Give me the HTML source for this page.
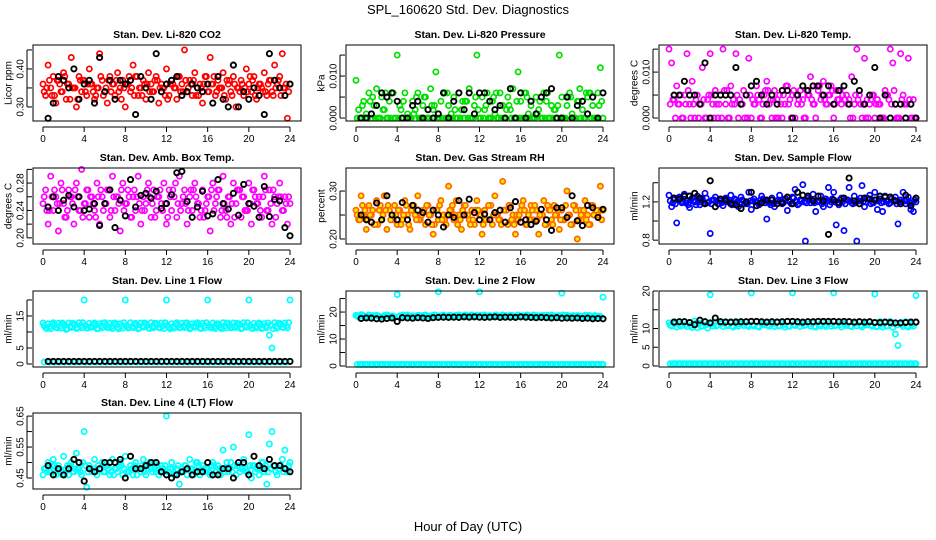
<!DOCTYPE html>
<html><head><meta charset="utf-8"><title>SPL_160620 Std. Dev. Diagnostics</title>
<style>
html,body{margin:0;padding:0;background:#fff;}
svg{display:block;font-family:"Liberation Sans",Arial,sans-serif;}
</style></head>
<body>
<svg id="chart" width="936" height="540" viewBox="0 0 936 540" xmlns="http://www.w3.org/2000/svg">
<text x="468" y="14" text-anchor="middle" font-size="13">SPL_160620  Std. Dev. Diagnostics</text>
<text x="468" y="531" text-anchor="middle" font-size="13">Hour of Day (UTC)</text>
</svg>
<script>
const hours = [0,0.25,0.5,0.75,1,1.25,1.5,1.75,2,2.25,2.5,2.75,3,3.25,3.5,3.75,4,4.25,4.5,4.75,5,5.25,5.5,5.75,6,6.25,6.5,6.75,7,7.25,7.5,7.75,8,8.25,8.5,8.75,9,9.25,9.5,9.75,10,10.25,10.5,10.75,11,11.25,11.5,11.75,12,12.25,12.5,12.75,13,13.25,13.5,13.75,14,14.25,14.5,14.75,15,15.25,15.5,15.75,16,16.25,16.5,16.75,17,17.25,17.5,17.75,18,18.25,18.5,18.75,19,19.25,19.5,19.75,20,20.25,20.5,20.75,21,21.25,21.5,21.75,22,22.25,22.5,22.75,23,23.25,23.5,23.75,24];
const hoursHalf = [0.5,1,1.5,2,2.5,3,3.5,4,4.5,5,5.5,6,6.5,7,7.5,8,8.5,9,9.5,10,10.5,11,11.5,12,12.5,13,13.5,14,14.5,15,15.5,16,16.5,17,17.5,18,18.5,19,19.5,20,20.5,21,21.5,22,22.5,23,23.5,24];
const hoursQ = [0.12,0.62,1.12,1.62,2.12,2.62,3.12,3.62,4.12,4.62,5.12,5.62,6.12,6.62,7.12,7.62,8.12,8.62,9.12,9.62,10.12,10.62,11.12,11.62,12.12,12.62,13.12,13.62,14.12,14.62,15.12,15.62,16.12,16.62,17.12,17.62,18.12,18.62,19.12,19.62,20.12,20.62,21.12,21.62,22.12,22.62,23.12,23.62];
const hoursR = [0.37,0.87,1.37,1.87,2.37,2.87,3.37,3.87,4.37,4.87,5.37,5.87,6.37,6.87,7.37,7.87,8.37,8.87,9.37,9.87,10.37,10.87,11.37,11.87,12.37,12.87,13.37,13.87,14.37,14.87,15.37,15.87,16.37,16.87,17.37,17.87,18.37,18.87,19.37,19.87,20.37,20.87,21.37,21.87,22.37,22.87,23.37,23.87];
const xTicks = [0,4,8,12,16,20,24];

const co2Main = [0.36,0.33,0.41,0.35,0.38,0.31,0.37,0.34,0.39,0.32,0.36,0.43,0.35,0.30,0.38,0.34,0.37,0.33,0.40,0.36,0.32,0.35,0.44,0.37,0.34,0.31,0.38,0.36,0.33,0.39,0.35,0.37,0.30,0.36,0.34,0.41,0.38,0.33,0.35,0.37,0.32,0.39,0.36,0.34,0.38,0.31,0.36,0.35,0.40,0.33,0.37,0.35,0.32,0.38,0.36,0.45,0.34,0.37,0.33,0.39,0.35,0.36,0.31,0.38,0.34,0.43,0.36,0.33,0.37,0.35,0.39,0.32,0.36,0.34,0.38,0.30,0.35,0.37,0.33,0.40,0.36,0.34,0.38,0.32,0.36,0.35,0.39,0.33,0.37,0.34,0.41,0.36,0.38,0.44,0.35,0.27,0.36];
const co2B = [0.34,0.37,0.33,0.36,0.38,0.32,0.35,0.37,0.34,0.36,0.33,0.38,0.35,0.34,0.37,0.32,0.36,0.35,0.38,0.33,0.36,0.34,0.37,0.35,0.32,0.36,0.38,0.34,0.35,0.37,0.33,0.36,0.34,0.38,0.35,0.33,0.37,0.36,0.34,0.35,0.38,0.33,0.36,0.34,0.37,0.35,0.33,0.36];
const co2C = [0.35,0.33,0.37,0.34,0.36,0.35,0.32,0.37,0.36,0.34,0.35,0.33,0.37,0.36,0.34,0.35,0.38,0.33,0.35,0.36,0.34,0.37,0.35,0.33,0.36,0.35,0.34,0.37,0.36,0.33,0.35,0.38,0.36,0.34,0.35,0.37,0.33,0.35,0.36,0.34,0.37,0.35,0.34,0.36,0.33,0.37,0.35,0.34];
const co2Black = [0.27,0.31,0.38,0.37,0.35,0.40,0.32,0.36,0.37,0.31,0.43,0.34,0.37,0.32,0.37,0.36,0.37,0.28,0.38,0.35,0.32,0.44,0.34,0.36,0.37,0.38,0.33,0.34,0.36,0.35,0.34,0.36,0.31,0.38,0.32,0.30,0.41,0.30,0.34,0.32,0.35,0.33,0.28,0.44,0.37,0.35,0.33,0.36];
const presMain = [0.009,0.002,0,0.004,0.001,0.006,0,0.003,0.007,0,0.005,0.002,0,0.004,0.006,0,0.015,0.003,0,0.006,0.001,0,0.004,0.002,0.006,0,0.003,0.005,0,0.007,0.002,0.011,0,0.004,0.006,0,0.003,0.001,0.005,0,0.006,0.002,0,0.004,0.007,0,0.003,0.015,0,0.005,0.002,0.006,0,0.004,0.001,0,0.006,0.003,0,0.005,0.002,0.007,0,0.011,0.004,0,0.006,0.001,0.003,0,0.005,0.002,0,0.006,0.004,0,0.003,0.002,0,0.015,0.005,0,0.003,0.006,0.001,0,0.004,0.007,0.002,0,0.005,0.006,0.003,0,0.006,0.012,0];
const presB = [0,0.003,0,0.005,0,0.002,0,0.006,0,0.004,0,0.001,0,0.005,0,0.003,0,0.006,0,0.002,0,0.004,0,0.005,0,0.003,0,0.006,0,0.002,0,0.004,0,0.005,0,0.001,0,0.006,0,0.003,0,0.005,0,0.004,0,0.006,0,0.003];
const presC = [0,0,0.004,0,0,0.006,0,0,0.002,0,0,0.005,0,0,0.003,0,0,0.006,0,0,0.004,0,0,0.002,0,0,0.005,0,0,0.003,0,0,0.006,0,0,0.004,0,0,0.002,0,0,0.005,0,0,0.006,0,0,0.004];
const presBlack = [0,0,0.001,0.003,0.006,0.005,0.006,0.004,0,0,0.003,0.004,0,0.002,0,0.001,0.006,0,0.004,0.006,0.002,0.006,0.001,0.006,0.006,0.004,0.002,0.003,0,0.007,0,0.006,0,0.004,0.001,0.005,0.006,0.007,0,0,0.005,0,0.003,0.004,0.001,0.005,0,0.006];
const tempMain = [0.015,0.012,0.004,0.007,0.003,0,0.005,0.014,0.003,0.008,0,0.005,0.003,0.011,0,0.004,0.014,0.003,0.006,0,0.005,0.015,0.003,0,0.007,0.004,0.014,0,0.003,0.006,0.005,0.013,0,0.003,0.007,0.004,0,0.005,0.008,0.003,0,0.006,0.004,0.005,0,0.003,0.007,0.004,0.005,0,0.003,0.006,0.004,0,0.005,0.009,0.003,0,0.006,0.004,0.008,0.003,0.005,0.007,0,0.006,0.004,0.003,0.007,0.005,0.004,0.009,0.003,0.015,0.005,0,0.013,0.004,0.003,0.005,0,0.004,0.003,0,0.006,0.005,0.015,0.012,0.003,0,0.014,0.005,0.003,0.013,0,0.004,0];
const tempB = [0.003,0,0.005,0.003,0,0.004,0.003,0,0.005,0.003,0,0.006,0.003,0.005,0.003,0,0.004,0.005,0.003,0.006,0.004,0,0.005,0.003,0.006,0.004,0,0.005,0.003,0.007,0.004,0.005,0.003,0.006,0.004,0,0.005,0.003,0,0.004,0.003,0,0.005,0.003,0,0.004,0.003,0];
const tempC = [0.004,0.003,0,0.006,0.003,0,0.004,0.005,0,0.003,0.006,0,0.003,0.004,0,0.005,0.003,0,0.006,0.004,0,0.003,0.007,0,0.005,0.003,0.006,0.004,0.007,0.005,0.003,0.006,0.004,0.005,0.003,0,0.004,0.003,0,0.005,0.003,0,0.004,0.006,0,0.003,0.004,0];
const tempBlack = [0.005,0.005,0.008,0.005,0.005,0.003,0.012,0,0.005,0.005,0.005,0.005,0.011,0.003,0.005,0.007,0.008,0.005,0.003,0.005,0.003,0.006,0.006,0,0.005,0.007,0.006,0.007,0.007,0.005,0.007,0.003,0.006,0.007,0.003,0.008,0.006,0.003,0.005,0.011,0,0.005,0,0.003,0.003,0,0.003,0];
const ambMain = [0.25,0.27,0.22,0.29,0.24,0.26,0.21,0.28,0.25,0.23,0.27,0.26,0.22,0.28,0.24,0.30,0.25,0.27,0.23,0.26,0.24,0.28,0.22,0.26,0.25,0.27,0.23,0.29,0.24,0.26,0.21,0.28,0.25,0.27,0.23,0.26,0.24,0.29,0.22,0.26,0.25,0.28,0.23,0.27,0.24,0.26,0.25,0.28,0.22,0.27,0.24,0.26,0.23,0.29,0.25,0.27,0.22,0.26,0.24,0.28,0.25,0.23,0.27,0.24,0.26,0.21,0.28,0.25,0.27,0.23,0.29,0.24,0.26,0.22,0.28,0.25,0.27,0.23,0.26,0.24,0.28,0.22,0.27,0.25,0.26,0.23,0.29,0.24,0.27,0.22,0.26,0.25,0.28,0.24,0.26,0.22,0.25];
const ambB = [0.26,0.24,0.27,0.25,0.23,0.26,0.27,0.24,0.25,0.26,0.23,0.27,0.25,0.24,0.26,0.27,0.25,0.23,0.26,0.24,0.27,0.25,0.26,0.24,0.23,0.27,0.25,0.26,0.24,0.27,0.25,0.23,0.26,0.24,0.27,0.25,0.26,0.23,0.27,0.24,0.25,0.26,0.24,0.27,0.25,0.23,0.26,0.25];
const ambC = [0.24,0.26,0.25,0.27,0.24,0.25,0.26,0.23,0.27,0.25,0.26,0.24,0.27,0.26,0.25,0.24,0.26,0.27,0.25,0.24,0.26,0.23,0.27,0.25,0.26,0.28,0.24,0.25,0.27,0.26,0.24,0.25,0.27,0.26,0.24,0.23,0.25,0.27,0.26,0.24,0.27,0.25,0.26,0.24,0.27,0.26,0.24,0.26];
const ambBlack = [0.245,0.26,0.24,0.255,0.262,0.245,0.26,0.24,0.242,0.25,0.218,0.25,0.27,0.215,0.255,0.232,0.285,0.245,0.262,0.265,0.258,0.268,0.243,0.25,0.263,0.295,0.297,0.253,0.23,0.245,0.268,0.232,0.235,0.285,0.25,0.242,0.265,0.233,0.278,0.25,0.246,0.23,0.275,0.231,0.256,0.254,0.215,0.203];
const rhMain = [0.26,0.24,0.29,0.25,0.22,0.27,0.25,0.23,0.28,0.26,0.24,0.29,0.22,0.26,0.25,0.27,0.23,0.26,0.24,0.28,0.25,0.22,0.27,0.25,0.29,0.24,0.26,0.23,0.27,0.25,0.21,0.26,0.24,0.28,0.25,0.23,0.31,0.26,0.24,0.28,0.25,0.22,0.27,0.25,0.24,0.26,0.23,0.28,0.25,0.21,0.26,0.24,0.27,0.23,0.29,0.25,0.24,0.32,0.26,0.23,0.27,0.25,0.21,0.24,0.26,0.28,0.23,0.25,0.27,0.24,0.26,0.21,0.25,0.28,0.23,0.26,0.24,0.27,0.25,0.22,0.26,0.24,0.30,0.25,0.23,0.27,0.20,0.26,0.24,0.28,0.25,0.23,0.27,0.36,0.25,0.31,0.26];
const rhB = [0.25,0.27,0.24,0.26,0.23,0.25,0.27,0.24,0.26,0.25,0.23,0.27,0.24,0.26,0.25,0.23,0.27,0.24,0.26,0.25,0.24,0.27,0.23,0.26,0.25,0.24,0.27,0.25,0.23,0.26,0.24,0.25,0.27,0.23,0.26,0.24,0.25,0.27,0.23,0.26,0.24,0.25,0.27,0.24,0.26,0.23,0.25,0.26];
const rhC = [0.24,0.26,0.25,0.23,0.27,0.26,0.24,0.25,0.23,0.27,0.26,0.24,0.25,0.27,0.23,0.26,0.24,0.25,0.27,0.23,0.26,0.25,0.24,0.26,0.23,0.27,0.25,0.24,0.26,0.27,0.23,0.25,0.26,0.24,0.27,0.25,0.23,0.26,0.25,0.24,0.27,0.23,0.26,0.25,0.24,0.27,0.26,0.24];
const rhBlack = [0.25,0.24,0.235,0.275,0.24,0.29,0.25,0.24,0.276,0.24,0.27,0.26,0.255,0.235,0.26,0.25,0.225,0.25,0.245,0.28,0.25,0.283,0.255,0.24,0.252,0.24,0.255,0.26,0.235,0.265,0.278,0.235,0.24,0.23,0.237,0.262,0.24,0.218,0.265,0.265,0.245,0.29,0.238,0.228,0.27,0.265,0.245,0.262];
const flowMain = [1.27,1.15,1.22,0.98,1.25,1.19,1.28,1.21,1.14,1.24,1.2,1.26,1.17,1.23,1.29,1.19,0.87,1.22,1.25,1.18,1.21,1.16,1.24,1.2,1.27,1.18,1.22,1.15,1.25,1.21,1.19,1.3,1.12,1.23,1.2,1.17,1.26,1.22,1.02,1.19,1.24,1.15,1.21,1.27,1.18,1.23,1.11,1.2,1.25,1.33,1.17,1.22,1.38,0.79,1.24,1.19,1.28,1.1,1.21,1.26,1.15,1.23,1.35,1.2,1.3,0.96,1.17,1.24,0.9,1.22,1.35,1.19,1.26,0.79,1.21,1.37,1.15,1.24,1.27,1.2,1.3,1.12,1.23,1.1,1.26,1.21,1.19,0.75,1.25,0.97,1.22,1.3,1.18,1.25,1.12,1.1,1.2];
const flowB = [1.21,1.18,1.23,1.19,1.22,1.17,1.2,1.24,1.18,1.21,1.19,1.23,1.17,1.2,1.22,1.18,1.21,1.19,1.23,1.2,1.18,1.22,1.19,1.21,1.24,1.18,1.2,1.22,1.19,1.21,1.23,1.17,1.2,1.22,1.18,1.21,1.19,1.24,1.2,1.18,1.22,1.19,1.21,1.23,1.18,1.2,1.22,1.19];
const flowC = [1.19,1.22,1.2,1.17,1.21,1.23,1.19,1.2,1.22,1.18,1.21,1.2,1.23,1.19,1.18,1.21,1.2,1.22,1.19,1.17,1.21,1.2,1.23,1.18,1.2,1.21,1.19,1.22,1.2,1.18,1.21,1.23,1.19,1.2,1.22,1.18,1.21,1.2,1.23,1.19,1.21,1.2,1.18,1.22,1.2,1.21,1.19,1.22];
const flowBlack = [1.24,1.23,1.26,1.26,1.29,1.24,1.18,1.42,1.15,1.23,1.22,1.18,1.17,1.13,1.2,1.3,1.16,1.19,1.22,1.22,1.18,1.19,1.25,1.18,1.3,1.27,1.26,1.21,1.26,1.21,0.86,1.22,1.19,1.24,1.45,1.21,1.18,1.24,1.23,1.22,1.26,1.25,1.25,1.21,1.18,1.27,1.16,1.24];
const line1Main = [12.8,11.3,12.6,11.0,12.9,11.5,12.7,11.2,12.5,10.8,12.8,11.4,12.6,11.1,12.9,11.3,20,11.2,12.7,11.5,12.8,11.0,12.6,11.3,12.9,11.4,12.7,11.1,12.8,11.5,12.6,11.2,20,11.3,12.9,11.4,12.7,11.0,12.8,11.5,12.6,11.2,12.9,11.3,12.7,11.4,12.8,11.1,20,11.5,12.6,11.2,12.9,11.3,12.7,11.4,12.8,11.0,12.6,11.5,12.9,11.2,12.7,11.3,20,11.4,12.8,11.1,12.6,11.5,12.9,11.2,12.7,11.3,12.8,11.4,12.6,11.0,12.9,11.5,20,11.2,12.7,11.3,12.8,11.1,12.6,11.4,9.0,5.0,12.9,11.2,12.7,11.5,12.8,11.3,20];
const line1B = [12.0,11.6,12.2,11.8,12.1,11.7,12.3,11.9,12.0,11.6,12.2,11.8,12.1,11.7,12.3,11.9,12.0,11.6,12.2,11.8,12.1,11.7,12.3,11.9,12.0,11.6,12.2,11.8,12.1,11.7,12.3,11.9,12.0,11.6,12.2,11.8,12.1,11.7,12.3,11.9,12.0,11.6,12.2,11.8,12.1,11.7,12.3,11.9];
const line1C = [11.1,12.6,11.3,12.8,11.0,12.7,11.4,12.9,11.2,12.6,11.1,12.8,11.3,12.7,11.0,12.9,11.4,12.6,11.2,12.8,11.1,12.7,11.3,12.9,11.0,12.6,11.4,12.8,11.2,12.7,11.1,12.9,11.3,12.6,11.0,12.8,11.4,12.7,11.2,12.9,11.1,12.6,11.3,12.8,11.0,12.7,11.4,12.9];
const line1Black = [0.8,0.8,0.8,0.8,0.8,0.8,0.8,0.8,0.8,0.8,0.8,0.8,0.8,0.8,0.8,0.8,0.8,0.8,0.8,0.8,0.8,0.8,0.8,0.8,0.8,0.8,0.8,0.8,0.8,0.8,0.8,0.8,0.8,0.8,0.8,0.8,0.8,0.8,0.8,0.8,0.8,0.8,0.8,0.8,0.8,0.8,0.8,0.8];
const lowFlow = [0.6,0.6,0.6,0.6,0.6,0.6,0.6,0.6,0.6,0.6,0.6,0.6,0.6,0.6,0.6,0.6,0.6,0.6,0.6,0.6,0.6,0.6,0.6,0.6,0.6,0.6,0.6,0.6,0.6,0.6,0.6,0.6,0.6,0.6,0.6,0.6,0.6,0.6,0.6,0.6,0.6,0.6,0.6,0.6,0.6,0.6,0.6,0.6];
const line2Main = [18.8,18.2,19.0,18.5,18.3,18.9,18.1,18.6,18.8,18.4,18.2,18.7,18.9,18.3,18.5,18.1,26.5,18.6,18.8,18.4,18.9,18.2,18.6,18.5,18.8,18.3,18.7,18.9,18.4,18.6,18.2,18.8,27.5,18.5,18.9,18.3,18.7,18.6,18.4,18.8,18.9,18.5,18.3,18.7,18.6,18.9,18.4,18.8,27.5,18.6,18.9,18.5,18.7,18.3,18.8,18.6,18.4,18.9,18.7,18.5,18.8,18.3,18.6,18.9,28,18.7,18.5,18.8,18.4,18.9,18.6,18.3,18.7,18.8,18.5,18.4,18.9,18.6,18.3,18.7,27,18.5,18.8,18.4,18.6,18.2,18.7,18.5,18.3,18.8,18.4,18.6,18.2,18.7,18.5,18.3,25.5];
const line2B = [18.5,18.9,18.3,18.7,18.6,18.4,18.8,18.5,18.2,18.9,18.6,18.4,18.8,18.7,18.3,18.9,18.5,18.6,18.8,18.4,18.7,18.9,18.5,18.3,18.8,18.6,18.4,18.9,18.7,18.5,18.8,18.3,18.6,18.9,18.4,18.7,18.5,18.8,18.3,18.6,18.9,18.4,18.7,18.5,18.2,18.8,18.6,18.4];
const line2Black = [17.6,17.8,17.7,17.5,17.4,17.6,17.8,16.5,17.9,17.8,17.7,17.9,17.8,17.6,17.9,18.0,18.1,18.0,18.1,18.0,18.2,18.1,18.2,18.1,18.0,18.1,18.2,18.0,18.1,18.1,18.0,18.2,18.1,18.0,17.9,18.0,17.9,17.8,17.9,17.7,17.8,17.7,17.8,17.6,17.7,17.5,17.6,17.5];
const line3Main = [11.5,10.6,11.8,10.4,11.2,10.8,11.9,10.5,11.6,10.3,12.0,10.2,11.4,10.7,11.8,10.1,19,10.6,11.7,10.9,11.3,10.5,11.8,10.7,11.6,10.4,11.9,10.6,11.2,10.8,11.7,10.5,19.5,10.7,11.8,10.4,11.5,10.9,11.7,10.6,11.3,10.5,11.8,10.7,11.6,10.4,11.9,10.6,19.5,10.8,11.7,10.5,11.4,10.9,11.8,10.6,11.5,10.4,11.9,10.7,11.6,10.5,11.8,10.6,19.5,10.9,11.7,10.4,11.5,10.8,11.9,10.5,11.6,10.7,11.8,10.4,11.3,10.9,11.7,10.6,19.2,10.5,11.8,10.4,11.6,10.7,11.9,10.3,8.5,5.5,11.6,10.5,11.8,10.4,11.5,10.6,18.8];
const line3B = [10.9,11.3,10.6,11.1,10.8,11.4,10.5,11.0,11.2,10.7,11.3,10.9,10.6,11.1,11.4,10.8,11.0,10.5,11.2,10.9,11.3,10.7,11.1,10.6,11.0,11.4,10.8,11.2,10.5,11.1,10.9,11.3,10.7,11.0,11.2,10.6,11.4,10.8,11.1,10.9,10.5,11.2,10.7,11.3,10.9,11.0,10.6,11.1];
const line3Black = [11.7,11.8,11.8,11.6,11.0,12.2,11.8,11.5,12.8,11.8,11.7,11.7,11.7,11.8,11.8,11.9,11.9,11.8,11.7,11.8,11.7,11.8,11.9,11.9,11.8,11.7,11.8,11.8,11.9,11.9,11.9,11.9,11.8,11.9,11.8,11.7,11.8,11.7,11.8,11.6,11.6,11.7,11.6,11.5,11.5,11.6,11.7,11.7];
const line4Main = [0.46,0.48,0.50,0.47,0.51,0.46,0.49,0.47,0.52,0.48,0.46,0.50,0.47,0.53,0.48,0.46,0.60,0.42,0.49,0.47,0.51,0.46,0.48,0.50,0.47,0.49,0.46,0.51,0.48,0.47,0.50,0.46,0.52,0.47,0.49,0.46,0.50,0.48,0.47,0.51,0.46,0.49,0.48,0.50,0.47,0.46,0.49,0.48,0.65,0.47,0.50,0.46,0.48,0.43,0.47,0.49,0.46,0.51,0.48,0.47,0.50,0.46,0.49,0.47,0.48,0.46,0.50,0.47,0.49,0.46,0.54,0.48,0.47,0.50,0.55,0.46,0.49,0.48,0.51,0.47,0.59,0.45,0.49,0.48,0.46,0.50,0.47,0.43,0.56,0.60,0.49,0.46,0.48,0.51,0.54,0.47,0.50];
const line4B = [0.48,0.47,0.49,0.48,0.46,0.49,0.48,0.47,0.49,0.48,0.47,0.48,0.49,0.47,0.48,0.49,0.47,0.48,0.46,0.49,0.48,0.47,0.49,0.48,0.47,0.48,0.49,0.47,0.48,0.46,0.49,0.48,0.47,0.49,0.48,0.47,0.48,0.49,0.47,0.48,0.49,0.47,0.48,0.49,0.48,0.47,0.49,0.48];
const line4C = [0.47,0.49,0.48,0.46,0.49,0.47,0.48,0.50,0.47,0.48,0.49,0.47,0.48,0.46,0.49,0.48,0.47,0.49,0.48,0.47,0.50,0.48,0.47,0.49,0.48,0.46,0.47,0.49,0.48,0.50,0.47,0.48,0.49,0.47,0.48,0.50,0.47,0.49,0.48,0.47,0.49,0.48,0.50,0.47,0.49,0.48,0.47,0.49];
const line4Black = [0.49,0.46,0.48,0.46,0.48,0.51,0.50,0.44,0.48,0.47,0.48,0.50,0.50,0.50,0.51,0.45,0.52,0.48,0.48,0.49,0.50,0.50,0.47,0.46,0.45,0.46,0.47,0.48,0.46,0.47,0.47,0.50,0.46,0.46,0.48,0.48,0.45,0.50,0.50,0.46,0.52,0.49,0.48,0.51,0.49,0.49,0.48,0.47];

const NS = "http://www.w3.org/2000/svg";
const svg = document.getElementById("chart");
const colLeft = [33, 346, 659];
const rowTop = [45, 168, 291, 413];
const BW = 268, BH = 76;
const CY = "#00ffff";

const panels = [
 {name:"co2", title:"Stan. Dev. Li-820 CO2", ylab:"Licor ppm", r:0,c:0, y0:0.263, y1:0.463, ticks:[0.30,0.35,0.40,0.45], labels:["0.30","","0.40",""], series:[[hours,co2Main,"#ff0000"],[hoursQ,co2B,"#ff0000"],[hoursR,co2C,"#ff0000"],[hoursHalf,co2Black,"#000"]]},
 {name:"pressure", title:"Stan. Dev. Li-820 Pressure", ylab:"kPa", r:0,c:1, y0:-0.0007, y1:0.0174, ticks:[0,0.005,0.010,0.015], labels:["0.000","","0.010",""], series:[[hours,presMain,"#00e000"],[hoursQ,presB,"#00e000"],[hoursR,presC,"#00e000"],[hoursHalf,presBlack,"#000"]]},
 {name:"temp", title:"Stan. Dev. Li-820 Temp.", ylab:"degrees C", r:0,c:2, y0:-0.00065, y1:0.0159, ticks:[0,0.005,0.010,0.015], labels:["0.000","","0.010",""], series:[[hours,tempMain,"#ff00ff"],[hoursQ,tempB,"#ff00ff"],[hoursR,tempC,"#ff00ff"],[hoursHalf,tempBlack,"#000"]]},
 {name:"amb-box", title:"Stan. Dev. Amb. Box Temp.", ylab:"degrees C", r:1,c:0, y0:0.191, y1:0.302, ticks:[0.20,0.22,0.24,0.26,0.28,0.30], labels:["0.20","","0.24","","0.28",""], series:[[hours,ambMain,"#ff00ff"],[hoursQ,ambB,"#ff00ff"],[hoursR,ambC,"#ff00ff"],[hoursHalf,ambBlack,"#000"]]},
 {name:"gas-rh", title:"Stan. Dev. Gas Stream RH", ylab:"percent", r:1,c:1, y0:0.1896, y1:0.348, ticks:[0.20,0.25,0.30], labels:["0.20","","0.30"], series:[[hours,rhMain,"#ff6600","#ffee00"],[hoursQ,rhB,"#ff6600","#ffee00"],[hoursR,rhC,"#ff6600","#ffee00"],[hoursHalf,rhBlack,"#000"]]},
 {name:"sample-flow", title:"Stan. Dev. Sample Flow", ylab:"ml/min", r:1,c:2, y0:0.76, y1:1.554, ticks:[0.8,1.0,1.2,1.4], labels:["0.8","","1.2",""], series:[[hours,flowMain,"#0000ff"],[hoursQ,flowB,"#0000ff"],[hoursR,flowC,"#0000ff"],[hoursHalf,flowBlack,"#000"]]},
 {name:"line1", title:"Stan. Dev. Line 1 Flow", ylab:"ml/min", r:2,c:0, y0:-0.94, y1:22.8, ticks:[0,5,10,15,20], labels:["0","5","","15",""], series:[[hours,line1Main,CY],[hoursQ,line1B,CY],[hoursR,line1C,CY],[hoursQ,lowFlow,CY],[hoursHalf,line1Black,"#000"]]},
 {name:"line2", title:"Stan. Dev. Line 2 Flow", ylab:"ml/min", r:2,c:1, y0:-0.37, y1:27.8, ticks:[0,5,10,15,20,25], labels:["0","","10","","20",""], series:[[hours,line2Main,CY],[hoursQ,line2B,CY],[hoursHalf,lowFlow,CY],[hoursQ,lowFlow,CY],[hoursR,lowFlow,CY],[hoursHalf,line2Black,"#000"]]},
 {name:"line3", title:"Stan. Dev. Line 3 Flow", ylab:"ml/min", r:2,c:2, y0:-0.27, y1:20, ticks:[0,5,10,15,20], labels:["0","5","10","","20"], series:[[hours,line3Main,CY],[hoursQ,line3B,CY],[hoursHalf,lowFlow,CY],[hoursQ,lowFlow,CY],[hoursR,lowFlow,CY],[hoursHalf,line3Black,"#000"]]},
 {name:"line4", title:"Stan. Dev. Line 4 (LT) Flow", ylab:"ml/min", r:3,c:0, y0:0.4145, y1:0.66, ticks:[0.45,0.50,0.55,0.60,0.65], labels:["0.45","","0.55","","0.65"], series:[[hours,line4Main,CY],[hoursQ,line4B,CY],[hoursR,line4C,CY],[hoursHalf,line4Black,"#000"]]}
];

function mk(tag, attrs, parent){
  const e = document.createElementNS(NS, tag);
  for (const k in attrs) e.setAttribute(k, attrs[k]);
  parent.appendChild(e);
  return e;
}

panels.forEach(p => {
  const L = colLeft[p.c], T = rowTop[p.r], B = T + BH;
  const xs = h => L + 10 + h / 24 * 247;
  const ys = v => B - (v - p.y0) / (p.y1 - p.y0) * BH;
  const g = mk("g", {}, svg);
  
  

  const title = mk("text", {x: L + BW/2, y: T - 7, "text-anchor":"middle", "font-size":"10.5", "font-weight":"bold"}, g);
  title.textContent = p.title;
  
  

  const pg = mk("g", {}, g);
  
  
  p.series.forEach(s => {
    const [hx, vals, col, fill] = s;
    const n = Math.min(hx.length, vals.length);
    for (let i = 0; i < n; i++) {
      const cx = xs(hx[i]), cy = ys(vals[i]);
      if (cy < T || cy > B) continue;
      const c = mk("circle", {cx: cx.toFixed(1), cy: cy.toFixed(1), r: 2.6, fill: fill || "none", stroke: col, "stroke-width": col === "#000" ? 1.9 : 1.7}, pg);
      
      
    }
  });

  const box = mk("rect", {x: L, y: T, width: BW, height: BH, fill: "none", stroke: "#000", "stroke-width": 1}, g);
  
  

  const xa = mk("g", {stroke:"#000","stroke-width":1}, g);
  
  
  mk("line", {x1: xs(0), x2: xs(24), y1: B + 6, y2: B + 6}, xa);
  xTicks.forEach(t => {
    mk("line", {x1: xs(t), x2: xs(t), y1: B + 6, y2: B + 11}, xa);
    const tl = mk("text", {x: xs(t), y: B + 21, "text-anchor":"middle", "font-size":"10", stroke:"none", fill:"#000"}, xa);
    tl.textContent = String(t);
    
    
  });

  const ya = mk("g", {stroke:"#000","stroke-width":1}, g);
  
  
  const tv = p.ticks.filter(t => ys(t) >= T - 0.5 && ys(t) <= B + 0.5);
  mk("line", {x1: L - 6, x2: L - 6, y1: ys(tv[0]), y2: ys(tv[tv.length-1])}, ya);
  p.ticks.forEach((t, i) => {
    const y = ys(t);
    if (y < T - 0.5 || y > B + 0.5) return;
    mk("line", {x1: L - 6, x2: L - 1, y1: y, y2: y}, ya);
    if (p.labels[i]) {
      const tl = mk("text", {x: L - 13, y: y, "text-anchor":"middle", "font-size":"10", stroke:"none", fill:"#000", transform:`rotate(-90 ${L-13} ${y})`, dy:"0.35em"}, ya);
      tl.textContent = p.labels[i];
      
      
    }
  });
  const yt = mk("text", {x: L - 25, y: T + BH/2, "text-anchor":"middle", "font-size":"10", transform:`rotate(-90 ${L-25} ${T+BH/2})`, dy:"0.35em"}, g);
  yt.textContent = p.ylab;
  
  
});
</script>
</body></html>
